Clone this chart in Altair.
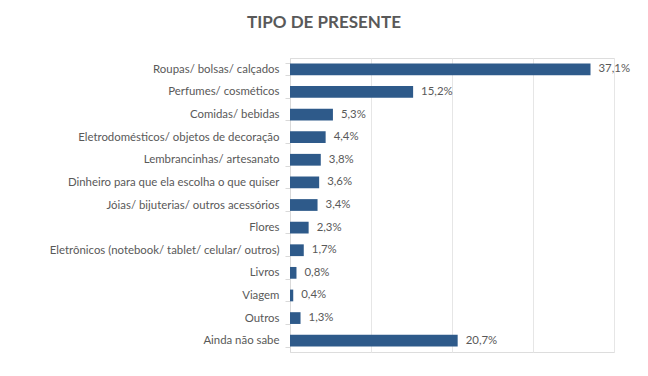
import altair as alt
import pandas as pd

categories = [
    "Roupas/ bolsas/ calçados",
    "Perfumes/ cosméticos",
    "Comidas/ bebidas",
    "Eletrodomésticos/ objetos de decoração",
    "Lembrancinhas/ artesanato",
    "Dinheiro para que ela escolha o que quiser",
    "Jóias/ bijuterias/ outros acessórios",
    "Flores",
    "Eletrônicos (notebook/ tablet/ celular/ outros)",
    "Livros",
    "Viagem",
    "Outros",
    "Ainda não sabe",
]
values = [37.1, 15.2, 5.3, 4.4, 3.8, 3.6, 3.4, 2.3, 1.7, 0.8, 0.4, 1.3, 20.7]
labels = [f"{v:.1f}".replace(".", ",") + "%" for v in values]
x_ticks = [0, 10, 20, 30, 40]

df = pd.DataFrame({"cat": categories, "val": values, "lab": labels})

FONT = "Lato"
GREY = "#595959"

y_enc = alt.Y(
    "cat:N",
    sort=categories,
    scale=alt.Scale(paddingInner=0.48, paddingOuter=0.24),
    axis=alt.Axis(
        title=None,
        tickBand="extent",
        tickSize=5,
        tickColor="#d9d9d9",
        domainColor="#d9d9d9",
        labelPadding=6,
        labelFont=FONT,
        labelFontSize=11.4,
        labelColor=GREY,
        labelLimit=400,
        grid=False,
    ),
)
x_enc = alt.X(
    "val:Q",
    scale=alt.Scale(domain=[0, 40], nice=False),
    axis=alt.Axis(
        title=None,
        values=x_ticks,
        labels=False,
        ticks=False,
        domain=False,
        grid=True,
        gridColor="#e6e6e6",
    ),
)

bars = alt.Chart(df).mark_bar(color="#2E5A8A").encode(x=x_enc, y=y_enc)
text = alt.Chart(df).mark_text(
    align="left", baseline="middle", dx=8, font=FONT, fontSize=11.4, color=GREY
).encode(x="val:Q", y=alt.Y("cat:N", sort=categories), text="lab:N")

chart = (
    alt.layer(bars, text)
    .properties(
        width=324,
        height=294,
        autosize=alt.AutoSizeParams(type="none"),
        padding={"left": 282, "top": 50, "right": 24, "bottom": 14},
        title=alt.TitleParams(
            "TIPO DE PRESENTE",
            font=FONT,
            fontSize=17,
            fontWeight="bold",
            color=GREY,
            anchor="middle",
            dx=-128,
            baseline="top",
            offset=20,
        ),
    )
    .configure_view(stroke=None)
    .configure(background="white")
)

chart.save("out.html", embed_options={"renderer": "svg", "actions": False})
